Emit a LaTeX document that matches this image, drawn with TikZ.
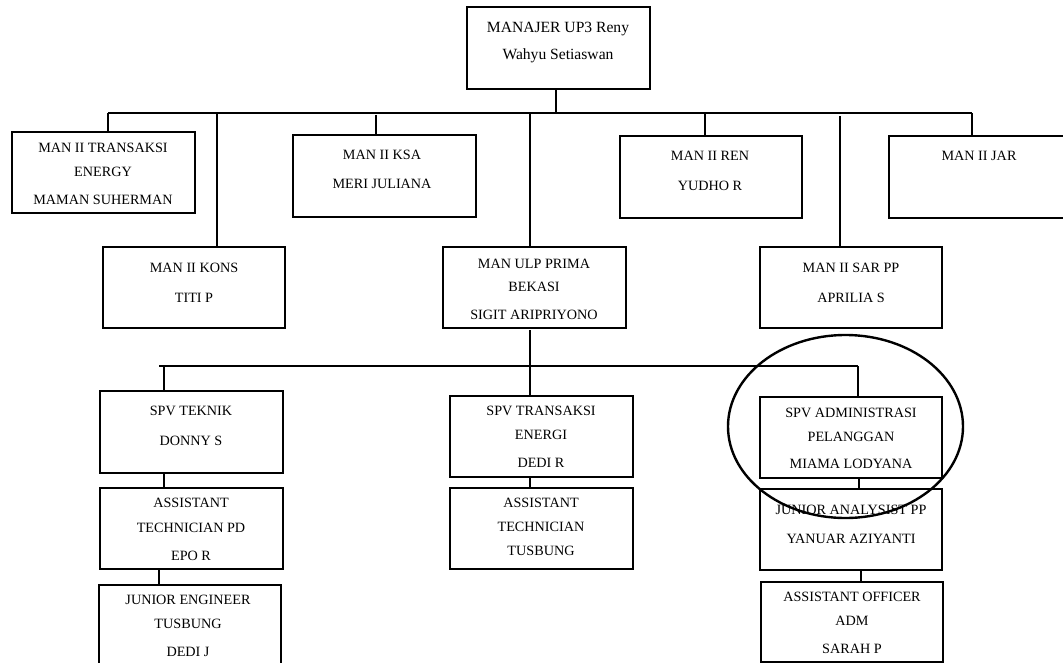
\documentclass[tikz,border=0pt]{standalone}
\usepackage{fontspec}
\setmainfont{Liberation Serif}
\usetikzlibrary{fit}
\tikzset{
 box/.style={draw, line width=1.1pt, inner sep=0pt, outer sep=0pt, rectangle},
 conn/.style={line width=1.1pt},
 txt/.style={inner sep=0pt, anchor=base, font=\fontsize{14.2}{16}\selectfont},
 bigtxt/.style={txt, font=\fontsize{15.6}{18}\selectfont},
 circ/.style={line width=2.4pt},
}
\newcommand\tline[4]{\node[txt] (#1) at (#2,#3+4.7) {#4};}
\begin{document}
\begin{tikzpicture}[x=1pt,y=-1pt]
\useasboundingbox (0,0) rectangle (1063,663);
\fill[white] (0,0) rectangle (1063,663);
\clip (0,0) rectangle (1063,663);
% boxes
\node[box, fit={(467,7) (650,89)}] (top) {};
\node[box, fit={(12,132) (195,213)}] (te) {};
\node[box, fit={(293,135) (476,217)}] (ksa) {};
\node[box, fit={(620,136) (802,218)}] (ren) {};
\node[box, fit={(889,136) (1075,218)}] (jar) {};
\node[box, fit={(103,247) (285,328)}] (kons) {};
\node[box, fit={(443,247) (626,328)}] (ulp) {};
\node[box, fit={(760,247) (942,328)}] (sar) {};
\node[box, fit={(100,391) (283,473)}] (spvt) {};
\node[box, fit={(100,488) (283,569)}] (atpd) {};
\node[box, fit={(99,585) (281,675)}] (jet) {};
\node[box, fit={(450,396) (633,477)}] (spvte) {};
\node[box, fit={(450,488) (633,569)}] (attu) {};
\node[box, fit={(760,397) (942,478)}] (spva) {};
\node[box, fit={(760,489) (942,570)}] (jap) {};
\node[box, fit={(761,582) (943,662)}] (aoa) {};
% texts
\node[bigtxt] (t1) at (558,28+4.5) {MANAJER UP3 Reny};
\node[bigtxt] (t2) at (558,55+4.5) {Wahyu Setiaswan};
\tline{te1}{103}{148}{MAN II TRANSAKSI}
\tline{te2}{103}{172}{ENERGY}
\tline{te3}{103}{200}{MAMAN SUHERMAN}
\tline{ksa1}{382}{155}{MAN II KSA}
\tline{ksa2}{382}{184}{MERI JULIANA}
\tline{ren1}{710}{156}{MAN II REN}
\tline{ren2}{710}{186}{YUDHO R}
\tline{jar1}{979}{156}{MAN II JAR}
\tline{kons1}{194}{268}{MAN II KONS}
\tline{kons2}{194}{298}{TITI P}
\tline{ulp1}{534}{264}{MAN ULP PRIMA}
\tline{ulp2}{534}{287}{BEKASI}
\tline{ulp3}{534}{315}{SIGIT ARIPRIYONO}
\tline{sar1}{851}{268}{MAN II SAR PP}
\tline{sar2}{851}{298}{APRILIA S}
\tline{spvt1}{191}{411}{SPV TEKNIK}
\tline{spvt2}{191}{441}{DONNY S}
\tline{atpd1}{191}{503}{ASSISTANT}
\tline{atpd2}{191}{528}{TECHNICIAN PD}
\tline{atpd3}{191}{556}{EPO R}
\tline{jet1}{188}{600}{JUNIOR ENGINEER}
\tline{jet2}{188}{624}{TUSBUNG}
\tline{jet3}{188}{652}{DEDI J}
\tline{spvte1}{541}{411}{SPV TRANSAKSI}
\tline{spvte2}{541}{435}{ENERGI}
\tline{spvte3}{541}{463}{DEDI R}
\tline{attu1}{541}{503}{ASSISTANT}
\tline{attu2}{541}{527}{TECHNICIAN}
\tline{attu3}{541}{551}{TUSBUNG}
\tline{spva1}{851}{413}{SPV ADMINISTRASI}
\tline{spva2}{851}{437}{PELANGGAN}
\tline{spva3}{851}{464}{MIAMA LODYANA}
\tline{jap1}{851}{510}{JUNIOR ANALYSIST PP}
\tline{jap2}{851}{539}{YANUAR AZIYANTI}
\tline{aoa1}{852}{597}{ASSISTANT OFFICER}
\tline{aoa2}{852}{621}{ADM}
\tline{aoa3}{852}{649}{SARAH P}
% connectors level 1
\coordinate (b1L) at (108,113);
\coordinate (b1R) at (972,113);
\coordinate (s0) at (556,113);
\draw[conn] (b1L) -- (b1R);
\draw[conn] (top.south -| s0) -- (s0);
\draw[conn] (b1L) -- (b1L |- te.north);
\coordinate (dk) at (217,113);
\draw[conn] (dk) -- (dk |- kons.north);
\coordinate (dksa) at (376,115);
\draw[conn] (dksa) -- (dksa |- ksa.north);
\coordinate (dulp) at (530,113);
\draw[conn] (dulp) -- (dulp |- ulp.north);
\coordinate (dren) at (705,113);
\draw[conn] (dren) -- (dren |- ren.north);
\coordinate (dsar) at (840,116);
\draw[conn] (dsar) -- (dsar |- sar.north);
\draw[conn] (b1R) -- (b1R |- jar.north);
% level 2 bus
\coordinate (b2) at (530,366);
\coordinate (b2L) at (164,366);
\coordinate (b2R) at (858,366);
\draw[conn] (ulp.south -| b2) ++(0,2) -- (b2);
\draw[conn] (159,366) coordinate (b2e) -- (b2R);
\draw[conn] (b2L) -- (b2L |- spvt.north);
\draw[conn] (b2) -- (b2 |- spvte.north);
\draw[conn] (b2R) -- (b2R |- spva.north);
% vertical chains
\coordinate (k1) at (164,0);
\draw[conn] (spvt.south -| k1) -- (atpd.north -| k1);
\coordinate (k2) at (159,0);
\draw[conn] (atpd.south -| k2) -- (jet.north -| k2);
\draw[conn] (spvte.south -| b2) -- (attu.north -| b2);
\coordinate (k3) at (859,0);
\draw[conn] (spva.south -| k3) -- (jap.north -| k3);
\coordinate (k4) at (861,0);
\draw[conn] (jap.south -| k4) -- (aoa.north -| k4);
% highlight ellipse
\draw[circ] (845.5,426.5) ellipse [x radius=117.5, y radius=91.5];
\end{tikzpicture}
\end{document}
